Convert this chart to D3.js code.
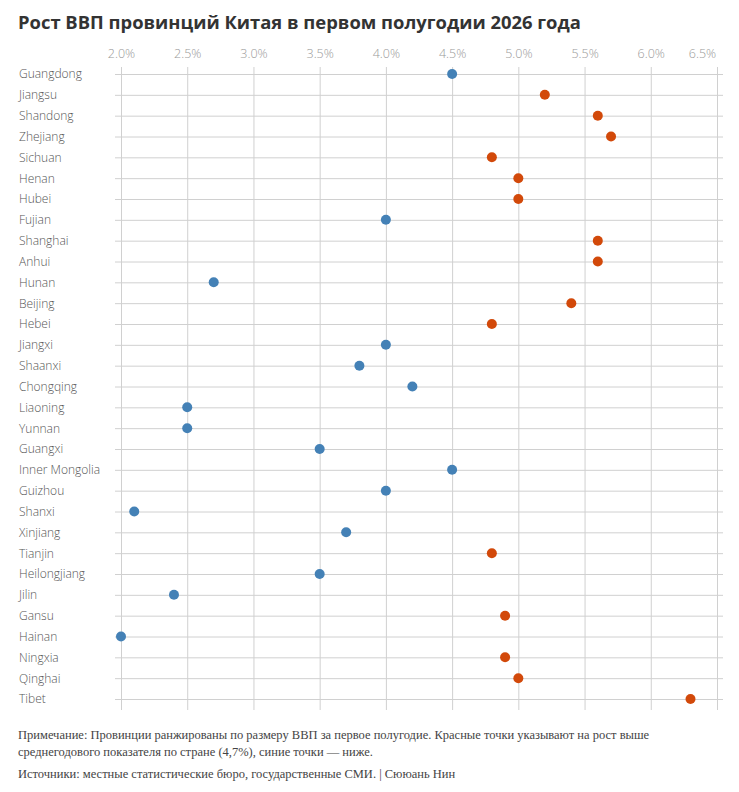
<!DOCTYPE html>
<html><head><meta charset="utf-8">
<script src="https://cdn.jsdelivr.net/npm/d3@7/dist/d3.min.js"></script>
<style>
body{margin:0;background:#fff;}
</style></head>
<body><svg id="chart" width="739" height="792"></svg>
<script>
const provinces = ["Guangdong","Jiangsu","Shandong","Zhejiang","Sichuan","Henan","Hubei","Fujian","Shanghai","Anhui","Hunan","Beijing","Hebei","Jiangxi","Shaanxi","Chongqing","Liaoning","Yunnan","Guangxi","Inner Mongolia","Guizhou","Shanxi","Xinjiang","Tianjin","Heilongjiang","Jilin","Gansu","Hainan","Ningxia","Qinghai","Tibet"];
const growth = [4.5,5.2,5.6,5.7,4.8,5.0,5.0,4.0,5.6,5.6,2.7,5.4,4.8,4.0,3.8,4.2,2.5,2.5,3.5,4.5,4.0,2.1,3.7,4.8,3.5,2.4,4.9,2.0,4.9,5.0,6.3];
const xTicks = [2.0,2.5,3.0,3.5,4.0,4.5,5.0,5.5,6.0,6.5];
const nationalAvg = 4.7;
const title = "Рост ВВП провинций Китая в первом полугодии 2026 года";
const note1 = "Примечание: Провинции ранжированы по размеру ВВП за первое полугодие. Красные точки указывают на рост выше";
const note2 = "среднегодового показателя по стране (4,7%), синие точки — ниже.";
const source = "Источники: местные статистические бюро, государственные СМИ. | Сююань Нин";

const sans = "'Open Sans', sans-serif";
const serif = "'Liberation Serif', serif";
const svg = d3.select("#chart");
const x = d3.scaleLinear().domain([2.0,6.5]).range([121,717]);
const y = d3.scalePoint().domain(provinces).range([74,699]);

svg.append("text").attr("x",18).attr("y",29).style("font-family",sans).style("font-size","18.4px").style("font-weight",700)
  .attr("fill","#333").text(title);

// vertical grid + tick labels
const xAxis = d3.axisTop(x).tickValues(xTicks).tickFormat(d=>d3.format(".1f")(d)+"%").tickSize(-(710-67)).tickPadding(9);
const gx = svg.append("g").attr("transform","translate(0,67)").call(xAxis);
gx.select(".domain").remove();
gx.selectAll(".tick line").attr("stroke","#d0d0d0").attr("stroke-width",1);
gx.selectAll(".tick text").attr("fill","#999").style("font-size","12.5px").style("font-family",sans).style("font-weight",300);
gx.selectAll(".tick text").filter(d=>d===6.5).attr("dx",-15);

// horizontal grid
const yAxis = d3.axisLeft(y).tickSize(-(723-115)).tickPadding(0);
const gy = svg.append("g").attr("transform","translate(115,0)").call(yAxis);
gy.select(".domain").remove();
gy.selectAll(".tick line").attr("stroke","#d0d0d0").attr("stroke-width",1);
gy.selectAll(".tick text").attr("x",19-115).attr("text-anchor","start").attr("fill","#555")
  .style("font-size","12px").style("font-family",sans).style("font-weight",300);

// dots
svg.append("g").selectAll("circle").data(provinces).join("circle")
  .attr("cx",(d,i)=>x(growth[i])).attr("cy",d=>y(d)).attr("r",5)
  .attr("fill",(d,i)=>growth[i]>nationalAvg?"#d2490a":"#4481b6");

// notes
const notes = [[note1,739],[note2,756],[source,778]];
svg.append("g").selectAll("text").data(notes).join("text")
  .attr("x",18).attr("y",d=>d[1]).style("font-size","12.5px").style("font-family",serif).attr("fill","#444").text(d=>d[0]);
</script></body></html>
